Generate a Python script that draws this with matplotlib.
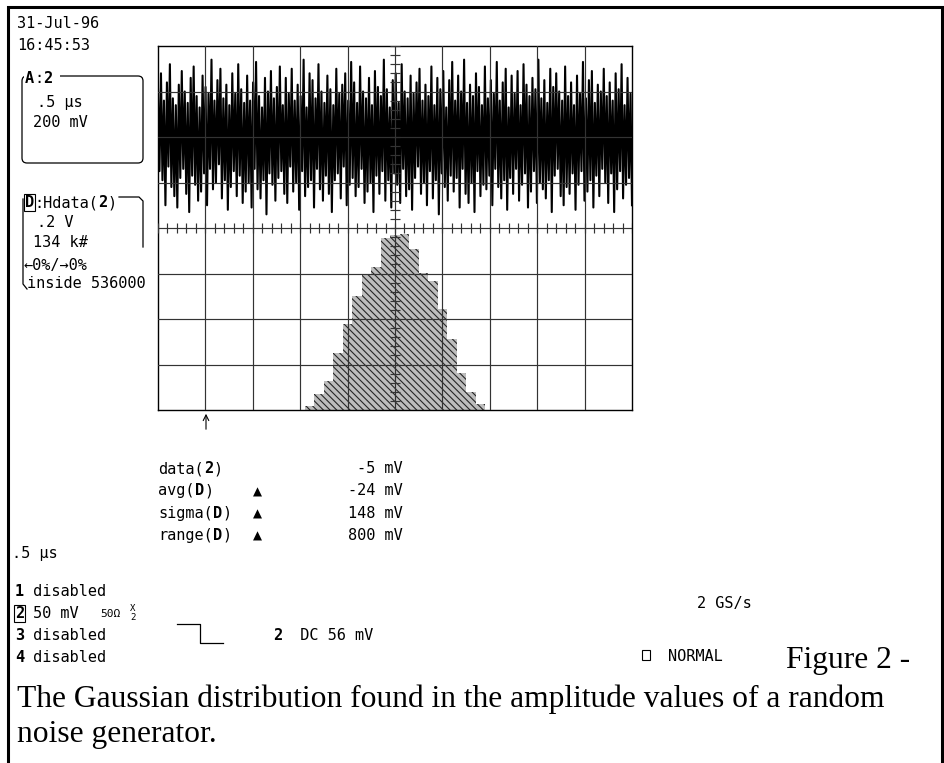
import numpy as np
import matplotlib.pyplot as plt
from matplotlib.patches import FancyBboxPatch, Rectangle

# channel 2 trace, mV per screen column (peak values as displayed, centre of trace = 0)
trace_mv = [
    210, -150, 280, -190, 160, -300, 240, -130, 320, -220, 170, -260, 140, -310, 230, -180, 290, -140, 200, -250,
    150, -330, 260, -170, 310, -210, 180, -280, 130, -240, 270, -160, 220, -300, 190, -140, 340, -230, 160, -200,
    250, -120, 300, -270, 170, -190, 230, -320, 140, -220, 280, -150, 190, -260, 320, -170, 210, -290, 150, -240,
    270, -200, 160, -310, 240, -140, 330, -230, 180, -270, 130, -190, 260, -340, 200, -160, 290, -210, 170, -280,
    220, -180, 310, -150, 140, -250, 260, -290, 190, -130, 300, -240, 160, -200, 230, -320, 180, -150, 340, -260,
    130, -220, 280, -190, 250, -310, 170, -140, 320, -230, 200, -280, 150, -170, 270, -250, 210, -330, 140, -190,
    300, -160, 190, -270, 230, -130, 280, -300, 160, -210, 330, -180, 240, -260, 150, -220, 310, -140, 200, -290,
    170, -240, 260, -200, 140, -330, 290, -170, 220, -250, 180, -150, 340, -280, 210, -190, 130, -310, 250, -160,
    280, -210, 150, -290, 320, -140, 200, -260, 170, -230, 270, -320, 190, -180, 240, -130, 300, -250, 160, -200,
    230, -300, 180, -150, 310, -270, 140, -190, 260, -340, 210, -160, 290, -220, 130, -280, 250, -170, 330, -240,
    160, -180, 270, -310, 200, -140, 340, -250, 150, -290, 230, -200, 180, -330, 280, -150, 220, -260, 140, -210,
    310, -230, 170, -170, 250, -300, 190, -140, 330, -220, 160, -270, 240, -190, 300, -320, 130, -180, 270, -250,
    190, -140, 290, -280, 140, -210, 320, -160, 230, -310, 180, -240, 260, -150, 210, -290, 340, -200, 170, -230,
    250, -270, 150, -190, 300, -330, 220, -170, 280, -140, 200, -260, 160, -300, 310, -220, 180, -250, 240, -160,
    140, -320, 270, -210, 190, -150, 330, -280, 170, -240, 250, -190, 290, -310, 150, -170, 230, -260, 200, -140,
    300, -200, 180, -290, 240, -160, 160, -330, 280, -230, 210, -150, 320, -270, 140, -210, 260, -180, 190, -300,
]

# histogram of the amplitudes (bin centre in V, counts in thousands)
hist_v = [-0.36, -0.32, -0.28, -0.24, -0.20, -0.16, -0.12, -0.08, -0.04, 0.00,
          0.04, 0.08, 0.12, 0.16, 0.20, 0.24, 0.28, 0.32, 0.36]
hist_k = [12, 47, 85, 168, 253, 336, 400, 421, 507, 515,
          518, 474, 403, 380, 297, 209, 109, 53, 18]
bin_w = 0.04

us_per_div = 0.5
mv_per_div = 200
trace_offset = 400      # trace sits 2 div above centre
v_per_div = 0.2
k_per_div = 134

meas_lbl = [("data(", "2", ")"), ("avg(", "D", ")"), ("sigma(", "D", ")"), ("range(", "D", ")")]
meas_icon = [False, True, True, True]
meas_val = ["-5 mV", "-24 mV", "148 mV", "800 mV"]

MONO = 'DejaVu Sans Mono'
SERIF = 'Liberation Serif'
FS = 11
CAP = 22.7

fig = plt.figure(figsize=(9.45, 7.63), dpi=100)
fig.patch.set_facecolor('white')

page = fig.add_axes([0, 0, 1, 1])
page.set_xlim(0, 945)
page.set_ylim(763, 0)
page.axis('off')


def adv(fs):
    return 0.6021 * fs * 100 / 72


def mono(x, y, parts, fs=FS):
    # parts: list of (text, bold)
    for txt, bold in parts:
        page.text(x, y, txt, family=MONO, fontsize=fs, va='baseline', ha='left',
                  weight='bold' if bold else 'normal')
        x += len(txt) * adv(fs)


# outer frame
page.plot([8, 8, 942, 942], [763, 7, 7, 763], color='black', lw=2.2, solid_joinstyle='miter')

# date / time
mono(17, 28, [("31-Jul-96", False)])
mono(17, 50, [("16:45:53", False)])

# channel A box
page.add_patch(FancyBboxPatch((22, 76), 121, 87, boxstyle='round,pad=0,rounding_size=5',
                              fc='none', ec='black', lw=0.9))
page.add_patch(Rectangle((24, 70), 36, 14, fc='white', ec='none', zorder=2))
for i, (txt, bold) in enumerate([("A", True), (":", False), ("2", True)]):
    page.text(25 + i * adv(FS), 83, txt, family=MONO, fontsize=FS, va='baseline',
              weight='bold' if bold else 'normal', zorder=3)
mono(37, 107, [(".5 µs", False)])
mono(33, 127, [("200 mV", False)])

# function D bracket
page.plot([119, 139, 143, 143], [197, 197, 201, 247], color='black', lw=0.9)
page.plot([23, 23, 27], [199, 284, 289], color='black', lw=0.9)
page.text(25, 207, "D", family=MONO, fontsize=FS, va='baseline', weight='bold',
          bbox=dict(boxstyle='square,pad=0.05', fc='white', ec='black', lw=0.8))
mono(25 + adv(FS), 207, [(":Hdata(", False), ("2", True), (")", False)])
mono(37, 227, [(".2 V", False)])
mono(33, 247, [("134 k#", False)])
mono(24, 270, [("←0%/→0%", False)])
mono(27, 288, [("inside 536000", False)])

# scope screen
pos = [158 / 945, 1 - 410 / 763, 474 / 945, 364 / 763]
hax = fig.add_axes(pos, zorder=2)
hax.set_xlim(-5 * v_per_div, 5 * v_per_div)
hax.set_ylim(0, 8 * k_per_div)
hax.axis('off')
plt.rcParams['hatch.linewidth'] = 0.8
hax.bar(hist_v, hist_k, width=bin_w, color='#bdbdbd', edgecolor='#262626',
        hatch='\\\\\\\\\\', linewidth=0)

ax = fig.add_axes(pos, zorder=3)
ax.set_facecolor('none')
ax.set_xlim(-5 * us_per_div, 5 * us_per_div)
ax.set_ylim(-4 * mv_per_div, 4 * mv_per_div)
ax.set_xticks([])
ax.set_yticks([])
for s in ax.spines.values():
    s.set_color('black')
    s.set_linewidth(1.0)

t = np.linspace(-5 * us_per_div, 5 * us_per_div, len(trace_mv))
ax.plot(t, np.array(trace_mv) + trace_offset, color='black', lw=1.5, zorder=2)

for gx in np.arange(-4, 5) * us_per_div:
    ax.axvline(gx, color='#333333', lw=0.85, zorder=4)
for gy in np.arange(-3, 4) * mv_per_div:
    ax.axhline(gy, color='#333333', lw=0.85, zorder=4)
# minor ticks along the centre lines
tk_x = 5 / 45.5 * mv_per_div
tk_t = 5 / 47.4 * us_per_div
ax.vlines(np.arange(-25, 26) * us_per_div / 5, -tk_x, tk_x, color='#333333', lw=0.85, zorder=4)
ax.hlines(np.arange(-20, 21) * mv_per_div / 5, -tk_t, tk_t, color='#333333', lw=0.85, zorder=4)

# trigger position marker
page.annotate('', xy=(206, 411), xytext=(206, 432),
              arrowprops=dict(arrowstyle='->', color='black', lw=0.8))

# measurements
for i, (lbl, icon, val) in enumerate(zip(meas_lbl, meas_icon, meas_val)):
    y = 473 + i * 22.3
    mono(158, y, [(lbl[0], False), (lbl[1], True), (lbl[2], False)])
    if icon:
        page.text(257, y, "▲", family='DejaVu Sans', fontsize=8.5, va='baseline', ha='center')
    page.text(403, y, val, family=MONO, fontsize=FS, va='baseline', ha='right')

# timebase and channel summary
mono(12, 558, [(".5 µs", False)])
mono(15, 596, [("1", True), (" disabled", False)])
page.text(15, 618, "2", family=MONO, fontsize=FS, va='baseline', weight='bold',
          bbox=dict(boxstyle='square,pad=0.05', fc='white', ec='black', lw=0.8))
mono(15 + 2 * adv(FS), 618, [("50 mV", False)])
page.text(100, 617, "50Ω", family=MONO, fontsize=8, va='baseline')
page.text(133, 611, "X", family=MONO, fontsize=6.5, va='baseline', ha='center')
page.text(133, 620, "2", family=MONO, fontsize=6.5, va='baseline', ha='center')
mono(15, 640, [("3", True), (" disabled", False)])
mono(15, 662, [("4", True), (" disabled", False)])

page.plot([177, 200, 200, 223], [624, 624, 643, 643], color='black', lw=0.9)
mono(273, 640, [("2", True), ("  DC 56 mV", False)])

mono(697, 608, [("2 GS/s", False)])
page.add_patch(Rectangle((642, 650), 8, 10, fc='none', ec='black', lw=0.8))
mono(668, 661, [("NORMAL", False)])

# caption
page.text(786, 668, "Figure 2 -", family=SERIF, fontsize=CAP, va='baseline')
page.text(17, 707, "The Gaussian distribution found in the amplitude values of a random",
          family=SERIF, fontsize=CAP, va='baseline')
page.text(17, 742, "noise generator.", family=SERIF, fontsize=CAP, va='baseline')

fig.savefig('out.png', dpi=100)
